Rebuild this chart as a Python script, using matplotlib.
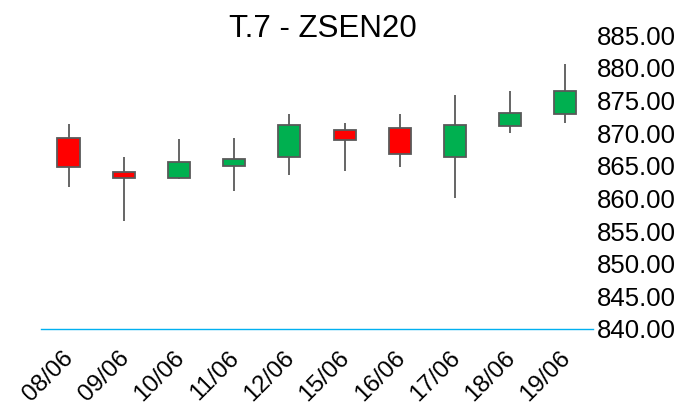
import numpy as np
import matplotlib
matplotlib.use('Agg')
import matplotlib.pyplot as plt
import matplotlib.transforms as mtransforms

plt.rcParams['font.family'] = ['Liberation Sans', 'DejaVu Sans']

dates = ['08/06', '09/06', '10/06', '11/06', '12/06', '15/06', '16/06', '17/06', '18/06', '19/06']
opens = [869.2, 864.0, 863.1, 865.0, 866.4, 870.4, 870.8, 866.4, 871.0, 872.9]
highs = [871.4, 866.4, 869.1, 869.3, 872.9, 871.6, 872.9, 875.8, 876.4, 880.6]
lows = [861.7, 856.5, 862.9, 861.1, 863.6, 864.2, 864.8, 860.0, 870.0, 871.5]
closes = [864.8, 863.1, 865.5, 866.0, 871.2, 868.9, 866.8, 871.2, 873.0, 876.5]
yticks = [840, 845, 850, 855, 860, 865, 870, 875, 880, 885]

o = np.array(opens)
c = np.array(closes)
x = np.arange(len(dates))
up = c >= o
colors = np.where(up, '#00B050', '#FF0000')

fig = plt.figure(figsize=(6.82, 4.09), dpi=100)
ax = fig.add_axes([0.060, 0.1956, 0.8095, 0.7188])

ax.vlines(x, lows, highs, color='#595959', linewidth=1.3, zorder=1)
ax.bar(x, np.abs(c - o), bottom=np.minimum(o, c), width=0.4,
       color=colors, edgecolor='#595959', linewidth=1.3, zorder=2)

ax.set_xlim(-0.5, len(dates) - 0.5)
ax.set_ylim(840, 885)
ax.set_yticks(yticks)
ax.set_yticklabels(['%.2f' % v for v in yticks])
ax.yaxis.tick_right()
ax.tick_params(axis='y', length=0, pad=3, labelsize=18.5)
ax.set_xticks(x)
ax.set_xticklabels(dates, rotation=45, ha='right', rotation_mode='anchor')
ax.tick_params(axis='x', length=0, pad=13, labelsize=17.5)

# nudge the rotated date labels a little to the left
shift = mtransforms.ScaledTranslation(-6 / 100, 0, fig.dpi_scale_trans)
for lab in ax.get_xticklabels():
    lab.set_transform(lab.get_transform() + shift)

for s in ['top', 'left', 'right']:
    ax.spines[s].set_visible(False)
ax.spines['bottom'].set_color('#00B0F0')
ax.spines['bottom'].set_linewidth(1.0)

fig.text(0.473, 0.9095, 'T.7 - ZSEN20', fontsize=22.5, ha='center', va='baseline')

fig.savefig('out.png', dpi=100)
